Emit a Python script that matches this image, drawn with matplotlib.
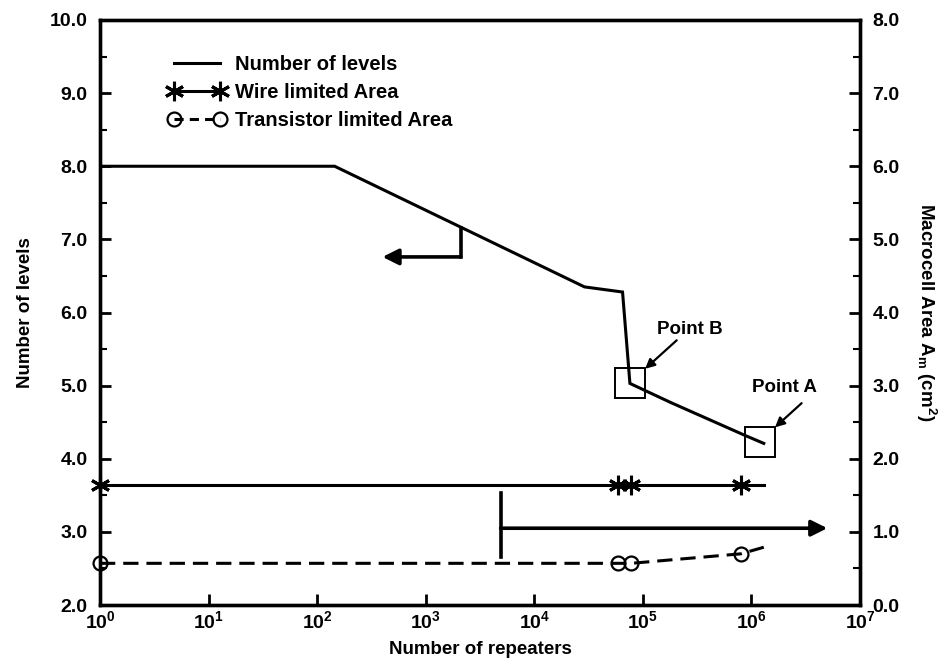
import matplotlib
matplotlib.use('Agg')
import matplotlib.pyplot as plt
from matplotlib.lines import Line2D

plt.rcParams['font.family'] = ['Liberation Sans', 'DejaVu Sans']
plt.rcParams['font.weight'] = 'bold'
plt.rcParams['mathtext.fontset'] = 'custom'
plt.rcParams['mathtext.rm'] = 'Liberation Sans:bold'
plt.rcParams['mathtext.it'] = 'Liberation Sans:bold'
plt.rcParams['mathtext.bf'] = 'Liberation Sans:bold'

# number of interconnect levels vs repeaters (left axis)
level_repeaters = [1, 145, 2.9e4, 6.5e4, 7.6e4, 1.8e5, 8.7e5, 1.3e6]
levels = [8.0, 8.0, 6.35, 6.28, 5.03, 4.77, 4.32, 4.21]

# macrocell area vs repeaters (right axis), last point has no marker
area_repeaters = [1, 5.9e4, 7.8e4, 8.0e5, 1.3e6]
wire_area = [1.64, 1.64, 1.64, 1.64, 1.64]
transistor_area = [0.57, 0.57, 0.57, 0.70, 0.79]
marked = [0, 1, 2, 3]

# highlighted design points
point_b = (7.6e4, 5.03)
point_a = (1.2e6, 4.23)

x_ticks = [10 ** k for k in range(8)]
x_tick_labels = ['$10^{%d}$' % k for k in range(8)]

fig = plt.figure(figsize=(9.43, 6.60), dpi=100)
ax = fig.add_axes([100 / 943, 55 / 660, 760 / 943, 585 / 660])
ax2 = ax.twinx()

lw = 2.2
star = (6, 2, 0)
ax.plot(level_repeaters, levels, color='black', lw=lw, solid_joinstyle='miter')
for px, py in (point_b, point_a):
    ax.plot(px, py, marker='s', ms=21, mfc='none', mec='black', mew=1.4, ls='none')

ax2.plot(area_repeaters, wire_area, color='black', lw=lw, marker=star,
         ms=14, mew=2.2, markevery=marked, clip_on=False)
ax2.plot(area_repeaters, transistor_area, color='black', lw=lw, dashes=(5, 2.6),
         marker='o', ms=10, mfc='none', mec='black', mew=1.6, markevery=marked,
         clip_on=False)

ax.set_xscale('log')
ax.set_xlim(1, 1e7)
ax.set_ylim(2.0, 10.0)
ax2.set_ylim(0.0, 8.0)
ax.set_xticks(x_ticks)
ax.set_xticklabels(x_tick_labels, fontsize=14)
ax.xaxis.set_minor_locator(matplotlib.ticker.NullLocator())

ax.set_yticks([2 + i for i in range(9)])
ax.set_yticklabels(['%.1f' % (2 + i) for i in range(9)], fontsize=14)
ax.set_yticks([2.5 + i for i in range(8)], minor=True)
ax2.set_yticks([i for i in range(9)])
ax2.set_yticklabels(['%.1f' % i for i in range(9)], fontsize=14)
ax2.set_yticks([0.5 + i for i in range(8)], minor=True)

for a in (ax, ax2):
    a.tick_params(which='major', direction='in', length=8, width=2, pad=9)
    a.tick_params(which='minor', direction='in', length=5, width=1.5)
    for s in a.spines.values():
        s.set_linewidth(2.4)
ax.tick_params(axis='x', pad=4)

ax.set_xlabel('Number of repeaters', fontsize=13.5, fontweight='bold', labelpad=6)
ax.set_ylabel('Number of levels', fontsize=13.5, fontweight='bold', labelpad=11)
ax2.set_ylabel('Macrocell Area A$_{m}$ (cm$^{2}$)', fontsize=13.5, fontweight='bold',
               rotation=270, labelpad=28)

# arrows pointing to the axis each curve belongs to
ax.plot([2.1e3, 2.1e3], [7.15, 6.76], color='black', lw=2.6)
ax.annotate('', xy=(400, 6.76), xytext=(2.1e3, 6.76),
            arrowprops=dict(arrowstyle='-|>', lw=2.6, color='black',
                            mutation_scale=24, shrinkA=0, shrinkB=0))
ax.plot([4.9e3, 4.9e3], [3.53, 2.66], color='black', lw=2.6)
ax.annotate('', xy=(5.0e6, 3.05), xytext=(4.9e3, 3.05),
            arrowprops=dict(arrowstyle='-|>', lw=2.6, color='black',
                            mutation_scale=24, shrinkA=0, shrinkB=0))

# point labels with their pointer arrows
ax.text(2.7e5, 5.77, 'Point B', fontsize=13.5, fontweight='bold', ha='center', va='center')
ax.annotate('', xy=(1.05e5, 5.23), xytext=(2.05e5, 5.62),
            arrowprops=dict(arrowstyle='-|>', lw=1.6, color='black',
                            mutation_scale=14, shrinkA=0, shrinkB=0))
ax.text(2.0e6, 4.97, 'Point A', fontsize=13.5, fontweight='bold', ha='center', va='center')
ax.annotate('', xy=(1.65e6, 4.43), xytext=(2.9e6, 4.76),
            arrowprops=dict(arrowstyle='-|>', lw=1.6, color='black',
                            mutation_scale=14, shrinkA=0, shrinkB=0))

handles = [
    Line2D([], [], color='black', lw=lw),
    Line2D([], [], color='black', lw=lw, marker=star, ms=14, mew=2.2),
    Line2D([], [], color='black', lw=lw, dashes=(3, 2), marker='o', ms=10,
           mfc='none', mec='black', mew=1.6),
]
labels = ['Number of levels', 'Wire limited Area', 'Transistor limited Area']
ax2.legend(handles, labels, loc='upper left', bbox_to_anchor=(168 / 943, 605 / 660),
           bbox_transform=fig.transFigure, frameon=False, numpoints=2,
           handlelength=2.9, handletextpad=0.45, labelspacing=0.45, borderpad=0,
           borderaxespad=0, prop={'size': 14.5, 'weight': 'bold'})

fig.savefig('out.png', dpi=100)
